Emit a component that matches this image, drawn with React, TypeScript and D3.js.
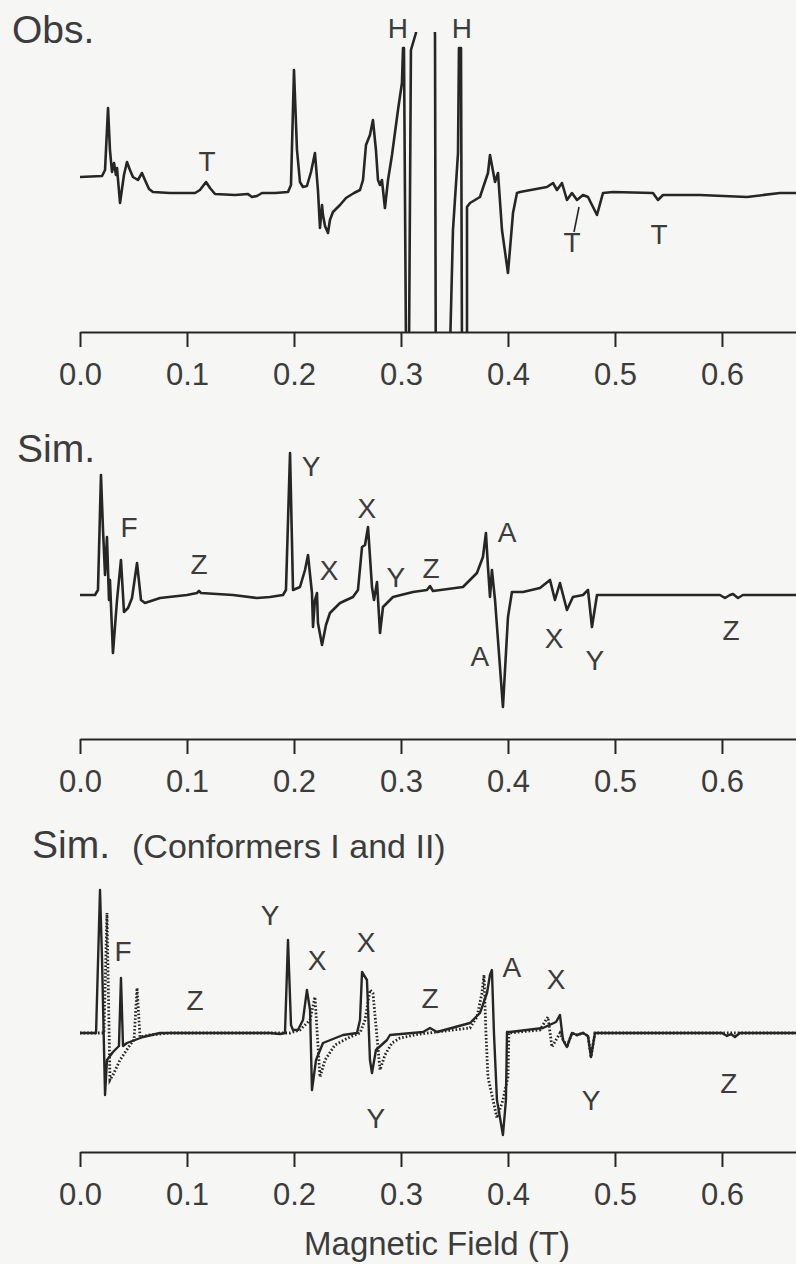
import React, { useEffect, useRef } from "react";
import * as d3 from "d3";

// EPR spectra: field (T) vs. derivative intensity (arbitrary units, 0 = baseline)
const observed: [number, number][] = [
  [0.0, 0.13], [0.0206, 0.14], [0.0234, 0.2], [0.0262, 0.82], [0.028, 0.4], [0.0299, 0.18],
  [0.0318, 0.27], [0.0336, 0.15], [0.0346, 0.22], [0.0374, -0.13], [0.0411, 0.15], [0.0439, 0.28],
  [0.0467, 0.2], [0.0495, 0.13], [0.0542, 0.1], [0.0579, 0.17], [0.0607, 0.1], [0.0645, 0.01],
  [0.0682, -0.02], [0.0841, -0.03], [0.1075, -0.03], [0.1121, 0.0], [0.1178, 0.08], [0.1215, 0.02],
  [0.1262, -0.04], [0.1449, -0.05], [0.157, -0.04], [0.1607, -0.07], [0.1654, -0.06], [0.1701, -0.03],
  [0.1822, -0.03], [0.1944, -0.02], [0.1972, 0.05], [0.2, 1.2], [0.2028, 0.4], [0.2056, 0.08],
  [0.2084, 0.03], [0.2121, 0.04], [0.2159, 0.18], [0.2196, 0.37], [0.2224, 0.0], [0.2243, -0.38],
  [0.2262, -0.15], [0.2271, -0.25], [0.229, -0.36], [0.2318, -0.43], [0.2336, -0.3], [0.2364, -0.22],
  [0.243, -0.15], [0.2486, -0.08], [0.2561, -0.03], [0.2617, 0.0], [0.2645, 0.1], [0.2673, 0.45],
  [0.271, 0.55], [0.2738, 0.7], [0.2766, 0.4], [0.2785, 0.1], [0.2804, 0.05], [0.2822, 0.1],
  [0.285, -0.18], [0.2879, 0.1], [0.2916, 0.35], [0.2972, 0.8], [0.3009, 1.07], [0.3019, 1.42],
  [0.3028, 1.42], [0.3047, -1.6], [0.3075, -1.6], [0.3093, 1.4], [0.314, 1.57], [0.318, 2.5],
  [0.329, 2.5], [0.3318, 1.55], [0.3327, -2.5], [0.3449, -2.5], [0.3458, -1.6], [0.3486, -0.4],
  [0.3533, 0.37], [0.3542, 1.42], [0.3561, 1.42], [0.357, -1.6], [0.3617, -1.6], [0.3617, -0.17],
  [0.3645, -0.13], [0.3738, -0.07], [0.3813, 0.17], [0.3832, 0.35], [0.3879, 0.08], [0.3907, 0.17],
  [0.3944, -0.4], [0.4, -0.83], [0.4047, -0.23], [0.4084, -0.03], [0.4112, -0.02], [0.4364, 0.03],
  [0.4421, 0.07], [0.4458, 0.0], [0.4505, 0.07], [0.4551, -0.1], [0.4598, -0.03], [0.4645, -0.1],
  [0.4701, -0.05], [0.4748, -0.07], [0.4832, -0.25], [0.4888, -0.03], [0.4981, -0.02], [0.5355, -0.03],
  [0.5402, -0.1], [0.5449, -0.05], [0.5794, -0.05], [0.6234, -0.07], [0.6542, -0.03], [0.6692, -0.03],
];

const simulated: [number, number][] = [
  [0.0, 0.0], [0.014, 0.0], [0.0168, 0.05], [0.0196, 1.2], [0.0215, 0.65], [0.0234, 0.2],
  [0.0252, 0.58], [0.0271, -0.05], [0.028, 0.15], [0.0308, -0.58], [0.0346, -0.05], [0.0383, 0.35],
  [0.0411, -0.17], [0.0449, -0.13], [0.0486, -0.03], [0.0533, 0.32], [0.057, -0.05], [0.0607, -0.08],
  [0.0748, -0.03], [0.1, 0.0], [0.1093, 0.02], [0.1112, 0.04], [0.1131, 0.02], [0.143, 0.0],
  [0.1654, -0.03], [0.1776, -0.02], [0.1897, 0.0], [0.1925, 0.05], [0.1963, 1.42], [0.1991, 0.05],
  [0.2056, 0.08], [0.2103, 0.25], [0.2131, 0.4], [0.2168, 0.02], [0.2178, -0.32], [0.2196, -0.05],
  [0.2215, 0.02], [0.2224, -0.28], [0.2262, -0.5], [0.2299, -0.3], [0.2336, -0.18], [0.243, -0.08],
  [0.2551, -0.02], [0.2598, 0.05], [0.2636, 0.48], [0.2664, 0.5], [0.2692, 0.68], [0.2729, 0.08],
  [0.2748, -0.05], [0.2776, 0.13], [0.2804, -0.38], [0.2832, -0.12], [0.2925, -0.02], [0.3112, 0.03],
  [0.3243, 0.05], [0.3271, 0.09], [0.3299, 0.04], [0.3579, 0.08], [0.371, 0.22], [0.3766, 0.38],
  [0.3794, 0.62], [0.3813, 0.28], [0.3832, -0.02], [0.385, 0.25], [0.3879, -0.05], [0.3953, -1.12],
  [0.4, -0.22], [0.4037, 0.03], [0.414, 0.03], [0.4299, 0.07], [0.4393, 0.15], [0.4439, -0.05],
  [0.4486, 0.12], [0.4551, -0.15], [0.4607, -0.02], [0.4701, 0.0], [0.4748, 0.05], [0.4785, -0.32],
  [0.4832, 0.0], [0.5981, 0.0], [0.6028, -0.03], [0.6075, 0.0], [0.6103, 0.01], [0.615, -0.03],
  [0.6196, 0.0], [0.6692, 0.0],
];

const conformerI: [number, number][] = [
  [0.0, 0.0], [0.015, 0.0], [0.0187, 1.43], [0.0206, 0.73], [0.0234, -0.62], [0.0252, -0.27],
  [0.0308, -0.19], [0.0364, -0.13], [0.0383, 0.55], [0.0402, -0.13], [0.0439, -0.1], [0.0589, -0.04],
  [0.0748, 0.0], [0.1776, 0.0], [0.1869, -0.01], [0.1916, 0.0], [0.1944, 0.93], [0.1972, 0.08],
  [0.1991, 0.03], [0.2037, 0.03], [0.2084, 0.13], [0.2121, 0.43], [0.215, 0.23], [0.2168, -0.57],
  [0.2206, -0.27], [0.2271, -0.1], [0.2458, -0.02], [0.2589, 0.0], [0.2617, 0.13], [0.2636, 0.61],
  [0.2682, 0.53], [0.271, -0.27], [0.2729, -0.4], [0.2766, -0.17], [0.2869, -0.07], [0.2897, -0.02],
  [0.3206, 0.01], [0.3271, 0.05], [0.3336, 0.01], [0.3645, 0.1], [0.3738, 0.2], [0.3804, 0.4],
  [0.3832, 0.58], [0.385, 0.63], [0.3869, 0.0], [0.3897, -0.67], [0.3953, -1.02], [0.3981, -0.67],
  [0.3991, 0.01], [0.4019, 0.01], [0.4327, 0.05], [0.4449, 0.11], [0.4486, 0.18], [0.4514, -0.07],
  [0.4551, -0.14], [0.4598, 0.0], [0.4645, -0.02], [0.4701, 0.0], [0.4748, -0.03], [0.4776, -0.24],
  [0.4813, 0.0], [0.6, 0.0], [0.6047, -0.03], [0.6084, -0.01], [0.6121, -0.04], [0.6168, 0.0],
  [0.6692, 0.0],
];

const conformerII: [number, number][] = [
  [0.0, 0.0], [0.0224, 0.0], [0.0252, 1.2], [0.028, -0.47], [0.0308, -0.42], [0.0374, -0.27],
  [0.0467, -0.12], [0.0505, -0.07], [0.0533, 0.45], [0.0561, -0.04], [0.0654, -0.02], [0.0841, 0.0],
  [0.1963, 0.0], [0.2056, 0.03], [0.215, 0.13], [0.2196, 0.36], [0.2215, 0.03], [0.2243, -0.44],
  [0.229, -0.27], [0.2383, -0.12], [0.2523, -0.04], [0.2617, 0.0], [0.2664, 0.13], [0.271, 0.43],
  [0.2738, 0.4], [0.2804, -0.37], [0.285, -0.22], [0.2916, -0.1], [0.2991, -0.05], [0.3178, -0.01],
  [0.3645, 0.05], [0.371, 0.16], [0.3757, 0.4], [0.3776, 0.58], [0.3794, 0.0], [0.3813, -0.44],
  [0.3897, -0.85], [0.3953, -0.67], [0.4, -0.44], [0.4009, 0.0], [0.4299, 0.03], [0.4355, 0.13],
  [0.4374, 0.16], [0.4411, -0.14], [0.4449, -0.07], [0.4486, 0.0], [0.4551, -0.14], [0.4598, 0.0],
  [0.4645, -0.02], [0.4701, 0.0], [0.4748, -0.03], [0.4776, -0.24], [0.4813, 0.0], [0.6692, 0.0],
];

// Peak assignments: [label, field (T), intensity]
const obsLabels: [string, number, number][] = [
  ["H", 0.2972, 1.62], ["H", 0.357, 1.62], ["T", 0.1187, 0.29], ["T", 0.4598, -0.52], ["T", 0.5411, -0.44],
];
const obsPointer: [number, number][] = [[0.4664, -0.17], [0.4617, -0.42]];

const simLabels: [string, number, number][] = [
  ["F", 0.0458, 0.68], ["Z", 0.1112, 0.31], ["Y", 0.2159, 1.29], ["X", 0.2327, 0.25],
  ["X", 0.2682, 0.87], ["Y", 0.2953, 0.18], ["Z", 0.328, 0.27], ["A", 0.3991, 0.63],
  ["A", 0.3738, -0.61], ["X", 0.443, -0.43], ["Y", 0.4813, -0.65], ["Z", 0.6084, -0.35],
];

const confLabels: [string, number, number][] = [
  ["F", 0.0402, 0.82], ["Z", 0.1075, 0.33], ["Y", 0.1776, 1.18], ["X", 0.2215, 0.73],
  ["X", 0.2673, 0.91], ["Z", 0.3271, 0.35], ["A", 0.4037, 0.66], ["X", 0.4449, 0.54],
  ["Y", 0.2766, -0.85], ["Y", 0.4776, -0.67], ["Z", 0.6065, -0.5],
];

const tickValues = [0, 0.1, 0.2, 0.3, 0.4, 0.5, 0.6];

const WIDTH = 796;
const HEIGHT = 1264;
const FONT = "'Liberation Sans', Arial, Helvetica, sans-serif";
const INK = "#262626";
const TEXT = "#3c3c3c";

const x = d3.scaleLinear().domain([0, 0.6692]).range([80, 796]);

const panels = [
  { baseline: 190, axisY: 332 },
  { baseline: 595, axisY: 739 },
  { baseline: 1033, axisY: 1152 },
];

const yScales = panels.map((p) => d3.scaleLinear().domain([0, 1]).range([p.baseline, p.baseline - 100]));

function Axis({ y }: { y: number }) {
  const ref = useRef<SVGGElement>(null);
  useEffect(() => {
    if (!ref.current) return;
    const g = d3.select(ref.current);
    g.call(
      d3
        .axisBottom(x)
        .tickValues(tickValues)
        .tickFormat(d3.format(".1f"))
        .tickSize(15)
        .tickSizeOuter(0)
        .tickPadding(16)
    );
    g.attr("font-size", null).attr("font-family", null);
    g.select(".domain").attr("stroke", INK).attr("stroke-width", 2);
    g.selectAll(".tick line").attr("stroke", INK).attr("stroke-width", 2);
    g.selectAll(".tick text")
      .attr("fill", TEXT)
      .style("font-size", "31px")
      .style("font-family", FONT);
  }, [y]);
  return <g ref={ref} transform={`translate(0,${y})`} />;
}

function Labels({ items, yScale }: { items: [string, number, number][]; yScale: d3.ScaleLinear<number, number> }) {
  return (
    <g fill={TEXT} fontSize={28} fontFamily={FONT} textAnchor="middle">
      {items.map(([t, f, v], i) => (
        <text key={i} x={x(f)} y={yScale(v)} dominantBaseline="central">
          {t}
        </text>
      ))}
    </g>
  );
}

export default function App() {
  const line = (ys: d3.ScaleLinear<number, number>) =>
    d3
      .line<[number, number]>()
      .x((d) => x(d[0]))
      .y((d) => ys(d[1]));

  const [y1, y2, y3] = yScales;

  return (
    <svg
      width={WIDTH}
      height={HEIGHT}
      style={{ position: "absolute", left: 0, top: 0, display: "block" }}
    >
      <rect width={WIDTH} height={HEIGHT} fill="#f6f6f4" />
      <defs>
        <clipPath id="obs-clip">
          <rect x={x(0)} y={32} width={WIDTH - x(0)} height={panels[0].axisY - 32} />
        </clipPath>
      </defs>

      {/* Observed spectrum */}
      <text x={12} y={43} fontSize={39} fontFamily={FONT} fill={TEXT}>
        Obs.
      </text>
      <path
        d={line(y1)(observed) || ""}
        fill="none"
        stroke={INK}
        strokeWidth={2.6}
        strokeLinejoin="round"
        clipPath="url(#obs-clip)"
      />
      <Labels items={obsLabels} yScale={y1} />
      <path d={line(y1)(obsPointer) || ""} stroke={INK} strokeWidth={1.6} fill="none" />
      <Axis y={panels[0].axisY} />

      {/* Simulated spectrum */}
      <text x={17} y={462} fontSize={39} fontFamily={FONT} fill={TEXT}>
        Sim.
      </text>
      <path d={line(y2)(simulated) || ""} fill="none" stroke={INK} strokeWidth={2.6} strokeLinejoin="round" />
      <Labels items={simLabels} yScale={y2} />
      <Axis y={panels[1].axisY} />

      {/* Simulation with both conformers */}
      <text x={32} y={858} fontFamily={FONT} fill={TEXT}>
        <tspan fontSize={39}>Sim.</tspan>
        <tspan x={132} fontSize={34}>
          (Conformers I and II)
        </tspan>
      </text>
      <path
        d={line(y3)(conformerII) || ""}
        fill="none"
        stroke={INK}
        strokeWidth={2.8}
        strokeDasharray="1.6 2"
      />
      <path d={line(y3)(conformerI) || ""} fill="none" stroke={INK} strokeWidth={2.4} strokeLinejoin="round" />
      <Labels items={confLabels} yScale={y3} />
      <Axis y={panels[2].axisY} />

      <text x={437} y={1255} fontSize={33} fontFamily={FONT} fill={TEXT} textAnchor="middle">
        Magnetic Field (T)
      </text>
    </svg>
  );
}
